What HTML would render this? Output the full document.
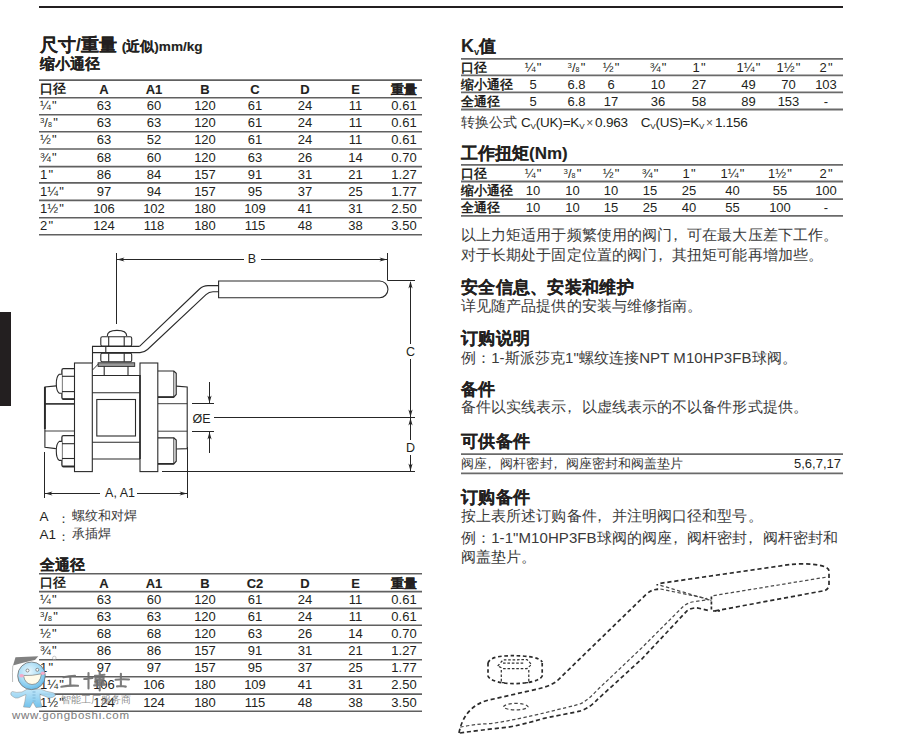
<!DOCTYPE html><html><head><meta charset="utf-8"><style>
html,body{margin:0;padding:0;background:#fff;width:899px;height:735px;overflow:hidden;position:relative}
body{font-family:"Liberation Sans", sans-serif;color:#231f20}
.a{position:absolute;white-space:nowrap;line-height:1}
.c{position:absolute;white-space:nowrap;line-height:1;text-align:center;width:60px}
.r{position:absolute;white-space:nowrap;line-height:1;text-align:right}
.hl{position:absolute}
.b{font-weight:bold}
.h{-webkit-text-stroke:0.12px #231f20}
.bs{-webkit-text-stroke:0.15px #231f20}
.fr sup{font-size:0.6em;vertical-align:0.55em;line-height:0}
.fr sub{font-size:0.55em;vertical-align:0;line-height:0}
</style></head><body>

<div class="hl" style="left:39px;top:6px;width:804px;height:2px;background:#231f20"></div>
<div class="hl" style="left:0;top:312px;width:11px;height:94px;background:#231f20"></div>
<div class="a h b" style="left:40px;top:37px;font-size:17.5px;">尺寸/重量 <span style="font-size:13.6px;-webkit-text-stroke:0.15px">(近似)mm/kg</span></div>
<div class="a h b" style="left:40px;top:57px;font-size:14.5px;">缩小通径</div>
<div class="a b" style="left:40px;top:82px;font-size:13px;">口径</div>
<div class="c b" style="left:74px;top:82.7px;font-size:13px;-webkit-text-stroke:0.1px #231f20">A</div>
<div class="c b" style="left:124px;top:82.7px;font-size:13px;-webkit-text-stroke:0.1px #231f20">A1</div>
<div class="c b" style="left:175px;top:82.7px;font-size:13px;-webkit-text-stroke:0.1px #231f20">B</div>
<div class="c b" style="left:225px;top:82.7px;font-size:13px;-webkit-text-stroke:0.1px #231f20">C</div>
<div class="c b" style="left:275px;top:82.7px;font-size:13px;-webkit-text-stroke:0.1px #231f20">D</div>
<div class="c b" style="left:325.5px;top:82.7px;font-size:13px;-webkit-text-stroke:0.1px #231f20">E</div>
<div class="c b" style="left:374px;top:82.7px;font-size:13px;-webkit-text-stroke:0.1px #231f20">重量</div>
<div class="a" style="left:40px;top:99.3px;font-size:13px;">¼<span style="margin-left:1.2px">"</span></div>
<div class="c" style="left:74px;top:99.3px;font-size:13px;">63</div>
<div class="c" style="left:124px;top:99.3px;font-size:13px;">60</div>
<div class="c" style="left:175px;top:99.3px;font-size:13px;">120</div>
<div class="c" style="left:225px;top:99.3px;font-size:13px;">61</div>
<div class="c" style="left:275px;top:99.3px;font-size:13px;">24</div>
<div class="c" style="left:325.5px;top:99.3px;font-size:13px;">11</div>
<div class="c" style="left:374px;top:99.3px;font-size:13px;">0.61</div>
<div class="a" style="left:40px;top:116.3px;font-size:13px;"><span class="fr"><sup>3</sup>/<sub>8</sub></span><span style="margin-left:1.2px">"</span></div>
<div class="c" style="left:74px;top:116.3px;font-size:13px;">63</div>
<div class="c" style="left:124px;top:116.3px;font-size:13px;">63</div>
<div class="c" style="left:175px;top:116.3px;font-size:13px;">120</div>
<div class="c" style="left:225px;top:116.3px;font-size:13px;">61</div>
<div class="c" style="left:275px;top:116.3px;font-size:13px;">24</div>
<div class="c" style="left:325.5px;top:116.3px;font-size:13px;">11</div>
<div class="c" style="left:374px;top:116.3px;font-size:13px;">0.61</div>
<div class="a" style="left:40px;top:133.4px;font-size:13px;">½<span style="margin-left:1.2px">"</span></div>
<div class="c" style="left:74px;top:133.4px;font-size:13px;">63</div>
<div class="c" style="left:124px;top:133.4px;font-size:13px;">52</div>
<div class="c" style="left:175px;top:133.4px;font-size:13px;">120</div>
<div class="c" style="left:225px;top:133.4px;font-size:13px;">61</div>
<div class="c" style="left:275px;top:133.4px;font-size:13px;">24</div>
<div class="c" style="left:325.5px;top:133.4px;font-size:13px;">11</div>
<div class="c" style="left:374px;top:133.4px;font-size:13px;">0.61</div>
<div class="a" style="left:40px;top:150.6px;font-size:13px;">¾<span style="margin-left:1.2px">"</span></div>
<div class="c" style="left:74px;top:150.6px;font-size:13px;">68</div>
<div class="c" style="left:124px;top:150.6px;font-size:13px;">60</div>
<div class="c" style="left:175px;top:150.6px;font-size:13px;">120</div>
<div class="c" style="left:225px;top:150.6px;font-size:13px;">63</div>
<div class="c" style="left:275px;top:150.6px;font-size:13px;">26</div>
<div class="c" style="left:325.5px;top:150.6px;font-size:13px;">14</div>
<div class="c" style="left:374px;top:150.6px;font-size:13px;">0.70</div>
<div class="a" style="left:40px;top:168.2px;font-size:13px;">1<span style="margin-left:1.2px">"</span></div>
<div class="c" style="left:74px;top:168.2px;font-size:13px;">86</div>
<div class="c" style="left:124px;top:168.2px;font-size:13px;">84</div>
<div class="c" style="left:175px;top:168.2px;font-size:13px;">157</div>
<div class="c" style="left:225px;top:168.2px;font-size:13px;">91</div>
<div class="c" style="left:275px;top:168.2px;font-size:13px;">31</div>
<div class="c" style="left:325.5px;top:168.2px;font-size:13px;">21</div>
<div class="c" style="left:374px;top:168.2px;font-size:13px;">1.27</div>
<div class="a" style="left:40px;top:184.5px;font-size:13px;">1¼<span style="margin-left:1.2px">"</span></div>
<div class="c" style="left:74px;top:184.5px;font-size:13px;">97</div>
<div class="c" style="left:124px;top:184.5px;font-size:13px;">94</div>
<div class="c" style="left:175px;top:184.5px;font-size:13px;">157</div>
<div class="c" style="left:225px;top:184.5px;font-size:13px;">95</div>
<div class="c" style="left:275px;top:184.5px;font-size:13px;">37</div>
<div class="c" style="left:325.5px;top:184.5px;font-size:13px;">25</div>
<div class="c" style="left:374px;top:184.5px;font-size:13px;">1.77</div>
<div class="a" style="left:40px;top:202.0px;font-size:13px;">1½<span style="margin-left:1.2px">"</span></div>
<div class="c" style="left:74px;top:202.0px;font-size:13px;">106</div>
<div class="c" style="left:124px;top:202.0px;font-size:13px;">102</div>
<div class="c" style="left:175px;top:202.0px;font-size:13px;">180</div>
<div class="c" style="left:225px;top:202.0px;font-size:13px;">109</div>
<div class="c" style="left:275px;top:202.0px;font-size:13px;">41</div>
<div class="c" style="left:325.5px;top:202.0px;font-size:13px;">31</div>
<div class="c" style="left:374px;top:202.0px;font-size:13px;">2.50</div>
<div class="a" style="left:40px;top:219.3px;font-size:13px;">2<span style="margin-left:1.2px">"</span></div>
<div class="c" style="left:74px;top:219.3px;font-size:13px;">124</div>
<div class="c" style="left:124px;top:219.3px;font-size:13px;">118</div>
<div class="c" style="left:175px;top:219.3px;font-size:13px;">180</div>
<div class="c" style="left:225px;top:219.3px;font-size:13px;">115</div>
<div class="c" style="left:275px;top:219.3px;font-size:13px;">48</div>
<div class="c" style="left:325.5px;top:219.3px;font-size:13px;">38</div>
<div class="c" style="left:374px;top:219.3px;font-size:13px;">3.50</div>
<div class="a h b" style="left:40px;top:558px;font-size:14.5px;">全通径</div>
<div class="a b" style="left:40px;top:576px;font-size:13px;">口径</div>
<div class="c b" style="left:74px;top:576.7px;font-size:13px;-webkit-text-stroke:0.1px #231f20">A</div>
<div class="c b" style="left:124px;top:576.7px;font-size:13px;-webkit-text-stroke:0.1px #231f20">A1</div>
<div class="c b" style="left:175px;top:576.7px;font-size:13px;-webkit-text-stroke:0.1px #231f20">B</div>
<div class="c b" style="left:225px;top:576.7px;font-size:13px;-webkit-text-stroke:0.1px #231f20">C2</div>
<div class="c b" style="left:275px;top:576.7px;font-size:13px;-webkit-text-stroke:0.1px #231f20">D</div>
<div class="c b" style="left:325.5px;top:576.7px;font-size:13px;-webkit-text-stroke:0.1px #231f20">E</div>
<div class="c b" style="left:374px;top:576.7px;font-size:13px;-webkit-text-stroke:0.1px #231f20">重量</div>
<div class="a" style="left:40px;top:593.2px;font-size:13px;">¼<span style="margin-left:1.2px">"</span></div>
<div class="c" style="left:74px;top:593.2px;font-size:13px;">63</div>
<div class="c" style="left:124px;top:593.2px;font-size:13px;">60</div>
<div class="c" style="left:175px;top:593.2px;font-size:13px;">120</div>
<div class="c" style="left:225px;top:593.2px;font-size:13px;">61</div>
<div class="c" style="left:275px;top:593.2px;font-size:13px;">24</div>
<div class="c" style="left:325.5px;top:593.2px;font-size:13px;">11</div>
<div class="c" style="left:374px;top:593.2px;font-size:13px;">0.61</div>
<div class="a" style="left:40px;top:610.0px;font-size:13px;"><span class="fr"><sup>3</sup>/<sub>8</sub></span><span style="margin-left:1.2px">"</span></div>
<div class="c" style="left:74px;top:610.0px;font-size:13px;">63</div>
<div class="c" style="left:124px;top:610.0px;font-size:13px;">63</div>
<div class="c" style="left:175px;top:610.0px;font-size:13px;">120</div>
<div class="c" style="left:225px;top:610.0px;font-size:13px;">61</div>
<div class="c" style="left:275px;top:610.0px;font-size:13px;">24</div>
<div class="c" style="left:325.5px;top:610.0px;font-size:13px;">11</div>
<div class="c" style="left:374px;top:610.0px;font-size:13px;">0.61</div>
<div class="a" style="left:40px;top:626.8px;font-size:13px;">½<span style="margin-left:1.2px">"</span></div>
<div class="c" style="left:74px;top:626.8px;font-size:13px;">68</div>
<div class="c" style="left:124px;top:626.8px;font-size:13px;">68</div>
<div class="c" style="left:175px;top:626.8px;font-size:13px;">120</div>
<div class="c" style="left:225px;top:626.8px;font-size:13px;">63</div>
<div class="c" style="left:275px;top:626.8px;font-size:13px;">26</div>
<div class="c" style="left:325.5px;top:626.8px;font-size:13px;">14</div>
<div class="c" style="left:374px;top:626.8px;font-size:13px;">0.70</div>
<div class="a" style="left:40px;top:644.3px;font-size:13px;">¾<span style="margin-left:1.2px">"</span></div>
<div class="c" style="left:74px;top:644.3px;font-size:13px;">86</div>
<div class="c" style="left:124px;top:644.3px;font-size:13px;">86</div>
<div class="c" style="left:175px;top:644.3px;font-size:13px;">157</div>
<div class="c" style="left:225px;top:644.3px;font-size:13px;">91</div>
<div class="c" style="left:275px;top:644.3px;font-size:13px;">31</div>
<div class="c" style="left:325.5px;top:644.3px;font-size:13px;">21</div>
<div class="c" style="left:374px;top:644.3px;font-size:13px;">1.27</div>
<div class="a" style="left:40px;top:661.4px;font-size:13px;">1<span style="margin-left:1.2px">"</span></div>
<div class="c" style="left:74px;top:661.4px;font-size:13px;">97</div>
<div class="c" style="left:124px;top:661.4px;font-size:13px;">97</div>
<div class="c" style="left:175px;top:661.4px;font-size:13px;">157</div>
<div class="c" style="left:225px;top:661.4px;font-size:13px;">95</div>
<div class="c" style="left:275px;top:661.4px;font-size:13px;">37</div>
<div class="c" style="left:325.5px;top:661.4px;font-size:13px;">25</div>
<div class="c" style="left:374px;top:661.4px;font-size:13px;">1.77</div>
<div class="a" style="left:40px;top:678.4px;font-size:13px;">1¼<span style="margin-left:1.2px">"</span></div>
<div class="c" style="left:74px;top:678.4px;font-size:13px;">106</div>
<div class="c" style="left:124px;top:678.4px;font-size:13px;">106</div>
<div class="c" style="left:175px;top:678.4px;font-size:13px;">180</div>
<div class="c" style="left:225px;top:678.4px;font-size:13px;">109</div>
<div class="c" style="left:275px;top:678.4px;font-size:13px;">41</div>
<div class="c" style="left:325.5px;top:678.4px;font-size:13px;">31</div>
<div class="c" style="left:374px;top:678.4px;font-size:13px;">2.50</div>
<div class="a" style="left:40px;top:695.7px;font-size:13px;">1½<span style="margin-left:1.2px">"</span></div>
<div class="c" style="left:74px;top:695.7px;font-size:13px;">124</div>
<div class="c" style="left:124px;top:695.7px;font-size:13px;">124</div>
<div class="c" style="left:175px;top:695.7px;font-size:13px;">180</div>
<div class="c" style="left:225px;top:695.7px;font-size:13px;">115</div>
<div class="c" style="left:275px;top:695.7px;font-size:13px;">48</div>
<div class="c" style="left:325.5px;top:695.7px;font-size:13px;">38</div>
<div class="c" style="left:374px;top:695.7px;font-size:13px;">3.50</div>
<div class="a h b" style="left:461px;top:36.5px;font-size:17px;"><span style="font-size:18px">K</span><sub style="font-size:9.5px;vertical-align:-2.5px;-webkit-text-stroke:0">v</sub>值</div>
<div class="a b" style="left:461px;top:61.2px;font-size:13px;">口径</div>
<div class="c" style="left:503px;top:61.2px;font-size:13px;">¼<span style="margin-left:1.2px">"</span></div>
<div class="c" style="left:546.5px;top:61.2px;font-size:13px;"><span class="fr"><sup>3</sup>/<sub>8</sub></span><span style="margin-left:1.2px">"</span></div>
<div class="c" style="left:581px;top:61.2px;font-size:13px;">½<span style="margin-left:1.2px">"</span></div>
<div class="c" style="left:628px;top:61.2px;font-size:13px;">¾<span style="margin-left:1.2px">"</span></div>
<div class="c" style="left:669px;top:61.2px;font-size:13px;">1<span style="margin-left:1.2px">"</span></div>
<div class="c" style="left:718.5px;top:61.2px;font-size:13px;">1¼<span style="margin-left:1.2px">"</span></div>
<div class="c" style="left:758.5px;top:61.2px;font-size:13px;">1½<span style="margin-left:1.2px">"</span></div>
<div class="c" style="left:796px;top:61.2px;font-size:13px;">2<span style="margin-left:1.2px">"</span></div>
<div class="a b" style="left:461px;top:77.6px;font-size:13px;">缩小通径</div>
<div class="c" style="left:503px;top:77.6px;font-size:13px;">5</div>
<div class="c" style="left:546.5px;top:77.6px;font-size:13px;">6.8</div>
<div class="c" style="left:581px;top:77.6px;font-size:13px;">6</div>
<div class="c" style="left:628px;top:77.6px;font-size:13px;">10</div>
<div class="c" style="left:669px;top:77.6px;font-size:13px;">27</div>
<div class="c" style="left:718.5px;top:77.6px;font-size:13px;">49</div>
<div class="c" style="left:758.5px;top:77.6px;font-size:13px;">70</div>
<div class="c" style="left:796px;top:77.6px;font-size:13px;">103</div>
<div class="a b" style="left:461px;top:94.7px;font-size:13px;">全通径</div>
<div class="c" style="left:503px;top:94.7px;font-size:13px;">5</div>
<div class="c" style="left:546.5px;top:94.7px;font-size:13px;">6.8</div>
<div class="c" style="left:581px;top:94.7px;font-size:13px;">17</div>
<div class="c" style="left:628px;top:94.7px;font-size:13px;">36</div>
<div class="c" style="left:669px;top:94.7px;font-size:13px;">58</div>
<div class="c" style="left:718.5px;top:94.7px;font-size:13px;">89</div>
<div class="c" style="left:758.5px;top:94.7px;font-size:13px;">153</div>
<div class="c" style="left:796px;top:94.7px;font-size:13px;">-</div>
<div class="a" style="left:461px;top:116px;font-size:13.5px;color:#3a3a3a">转换公式</div>
<div class="a" style="left:521px;top:115.5px;font-size:13.5px;letter-spacing:-0.2px">C<sub style="font-size:8px;vertical-align:-2px">V</sub>(UK)=K<sub style="font-size:8px;vertical-align:-2px">V</sub><span style="font-size:12px;margin:0 2px;color:#555">×</span>0.963</div>
<div class="a" style="left:640.8px;top:115.5px;font-size:13.5px;letter-spacing:-0.2px">C<sub style="font-size:8px;vertical-align:-2px">V</sub>(US)=K<sub style="font-size:8px;vertical-align:-2px">V</sub><span style="font-size:12px;margin:0 2px;color:#555">×</span>1.156</div>
<div class="a h b" style="left:461px;top:145px;font-size:17px;">工作扭矩(Nm)</div>
<div class="a b" style="left:461px;top:167.2px;font-size:13px;">口径</div>
<div class="c" style="left:503px;top:167.2px;font-size:13px;">¼<span style="margin-left:1.2px">"</span></div>
<div class="c" style="left:542.5px;top:167.2px;font-size:13px;"><span class="fr"><sup>3</sup>/<sub>8</sub></span><span style="margin-left:1.2px">"</span></div>
<div class="c" style="left:581px;top:167.2px;font-size:13px;">½<span style="margin-left:1.2px">"</span></div>
<div class="c" style="left:620px;top:167.2px;font-size:13px;">¾<span style="margin-left:1.2px">"</span></div>
<div class="c" style="left:659px;top:167.2px;font-size:13px;">1<span style="margin-left:1.2px">"</span></div>
<div class="c" style="left:702.5px;top:167.2px;font-size:13px;">1¼<span style="margin-left:1.2px">"</span></div>
<div class="c" style="left:750px;top:167.2px;font-size:13px;">1½<span style="margin-left:1.2px">"</span></div>
<div class="c" style="left:796px;top:167.2px;font-size:13px;">2<span style="margin-left:1.2px">"</span></div>
<div class="a b" style="left:461px;top:183.8px;font-size:13px;">缩小通径</div>
<div class="c" style="left:503px;top:183.8px;font-size:13px;">10</div>
<div class="c" style="left:542.5px;top:183.8px;font-size:13px;">10</div>
<div class="c" style="left:581px;top:183.8px;font-size:13px;">10</div>
<div class="c" style="left:620px;top:183.8px;font-size:13px;">15</div>
<div class="c" style="left:659px;top:183.8px;font-size:13px;">25</div>
<div class="c" style="left:702.5px;top:183.8px;font-size:13px;">40</div>
<div class="c" style="left:750px;top:183.8px;font-size:13px;">55</div>
<div class="c" style="left:796px;top:183.8px;font-size:13px;">100</div>
<div class="a b" style="left:461px;top:201.4px;font-size:13px;">全通径</div>
<div class="c" style="left:503px;top:201.4px;font-size:13px;">10</div>
<div class="c" style="left:542.5px;top:201.4px;font-size:13px;">10</div>
<div class="c" style="left:581px;top:201.4px;font-size:13px;">15</div>
<div class="c" style="left:620px;top:201.4px;font-size:13px;">25</div>
<div class="c" style="left:659px;top:201.4px;font-size:13px;">40</div>
<div class="c" style="left:702.5px;top:201.4px;font-size:13px;">55</div>
<div class="c" style="left:750px;top:201.4px;font-size:13px;">100</div>
<div class="c" style="left:796px;top:201.4px;font-size:13px;">-</div>
<div class="a" style="left:461px;top:228px;font-size:14.5px;color:#3a3a3a;letter-spacing:0.08px">以上力矩适用于频繁使用的阀门<span style="position:relative;left:-0.3em">，</span>可在最大压差下工作。</div>
<div class="a" style="left:461px;top:248px;font-size:14.5px;color:#3a3a3a;letter-spacing:0.08px">对于长期处于固定位置的阀门<span style="position:relative;left:-0.3em">，</span>其扭矩可能再增加些。</div>
<div class="a h b" style="left:461px;top:279px;font-size:17px;letter-spacing:0.3px">安全信息、安装和维护</div>
<div class="a" style="left:461px;top:299px;font-size:14.5px;color:#3a3a3a;letter-spacing:0.08px">详见随产品提供的安装与维修指南。</div>
<div class="a h b" style="left:461px;top:330px;font-size:17px;letter-spacing:0.3px">订购说明</div>
<div class="a" style="left:461px;top:350px;font-size:14.5px;color:#3a3a3a;letter-spacing:0.08px">例：<span style="font-size:15px">1-</span>斯派莎克<span style="font-size:15px">1"</span>螺纹连接<span style="font-size:15px">NPT M10HP3FB</span>球阀。</div>
<div class="a h b" style="left:461px;top:381px;font-size:17px;letter-spacing:0.3px">备件</div>
<div class="a" style="left:461px;top:400px;font-size:14.5px;color:#3a3a3a;letter-spacing:0.08px">备件以实线表示<span style="position:relative;left:-0.3em">，</span>以虚线表示的不以备件形式提供。</div>
<div class="a h b" style="left:461px;top:433px;font-size:17px;letter-spacing:0.3px">可供备件</div>
<div class="a" style="left:461px;top:457px;font-size:13.3px;color:#3a3a3a;letter-spacing:0.08px">阀座<span style="position:relative;left:-0.3em">，</span>阀杆密封<span style="position:relative;left:-0.3em">，</span>阀座密封和阀盖垫片</div>
<div class="r" style="right:58px;top:457px;font-size:13px;">5,6,7,17</div>
<div class="a h b" style="left:461px;top:489px;font-size:17px;letter-spacing:0.3px">订购备件</div>
<div class="a" style="left:461px;top:509px;font-size:14.5px;color:#3a3a3a;letter-spacing:0.08px">按上表所述订购备件<span style="position:relative;left:-0.3em">，</span>并注明阀口径和型号。</div>
<div class="a" style="left:461px;top:530px;font-size:14.5px;color:#3a3a3a;letter-spacing:0.08px">例：<span style="font-size:15px">1-1"M10HP3FB</span>球阀的阀座<span style="position:relative;left:-0.3em">，</span>阀杆密封<span style="position:relative;left:-0.3em">，</span>阀杆密封和</div>
<div class="a" style="left:461px;top:550px;font-size:14.5px;color:#3a3a3a;letter-spacing:0.08px">阀盖垫片。</div>
<svg style="position:absolute;left:0;top:0" width="899" height="735"><line x1="39" y1="80.1" x2="422" y2="80.1" stroke="#606060" stroke-width="1.6"/><line x1="39" y1="97.7" x2="422" y2="97.7" stroke="#606060" stroke-width="1.6"/><line x1="39" y1="114.7" x2="422" y2="114.7" stroke="#606060" stroke-width="1.6"/><line x1="39" y1="131.8" x2="422" y2="131.8" stroke="#606060" stroke-width="1.6"/><line x1="39" y1="149.0" x2="422" y2="149.0" stroke="#606060" stroke-width="1.6"/><line x1="39" y1="166.6" x2="422" y2="166.6" stroke="#606060" stroke-width="1.6"/><line x1="39" y1="182.9" x2="422" y2="182.9" stroke="#606060" stroke-width="1.6"/><line x1="39" y1="200.4" x2="422" y2="200.4" stroke="#606060" stroke-width="1.6"/><line x1="39" y1="217.7" x2="422" y2="217.7" stroke="#606060" stroke-width="1.6"/><line x1="39" y1="234.8" x2="422" y2="234.8" stroke="#606060" stroke-width="1.6"/><line x1="39" y1="573.8" x2="422" y2="573.8" stroke="#606060" stroke-width="1.6"/><line x1="39" y1="591.6" x2="422" y2="591.6" stroke="#606060" stroke-width="1.6"/><line x1="39" y1="608.4" x2="422" y2="608.4" stroke="#606060" stroke-width="1.6"/><line x1="39" y1="625.2" x2="422" y2="625.2" stroke="#606060" stroke-width="1.6"/><line x1="39" y1="642.7" x2="422" y2="642.7" stroke="#606060" stroke-width="1.6"/><line x1="39" y1="659.8" x2="422" y2="659.8" stroke="#606060" stroke-width="1.6"/><line x1="39" y1="676.8" x2="422" y2="676.8" stroke="#606060" stroke-width="1.6"/><line x1="39" y1="694.1" x2="422" y2="694.1" stroke="#606060" stroke-width="1.6"/><line x1="39" y1="711.2" x2="422" y2="711.2" stroke="#606060" stroke-width="1.6"/><line x1="461" y1="58.9" x2="843" y2="58.9" stroke="#6a6a6a" stroke-width="1.8"/><line x1="461" y1="75.3" x2="843" y2="75.3" stroke="#6a6a6a" stroke-width="1.8"/><line x1="461" y1="92.4" x2="843" y2="92.4" stroke="#6a6a6a" stroke-width="1.8"/><line x1="461" y1="109.5" x2="843" y2="109.5" stroke="#6a6a6a" stroke-width="1.8"/><line x1="461" y1="164.9" x2="843" y2="164.9" stroke="#6a6a6a" stroke-width="1.8"/><line x1="461" y1="181.5" x2="843" y2="181.5" stroke="#6a6a6a" stroke-width="1.8"/><line x1="461" y1="199.1" x2="843" y2="199.1" stroke="#6a6a6a" stroke-width="1.8"/><line x1="461" y1="215.8" x2="843" y2="215.8" stroke="#6a6a6a" stroke-width="1.8"/><line x1="461" y1="454.2" x2="843" y2="454.2" stroke="#6a6a6a" stroke-width="1.8"/><line x1="461" y1="473.4" x2="843" y2="473.4" stroke="#6a6a6a" stroke-width="1.8"/></svg>
<svg style="position:absolute;left:0;top:0" width="899" height="735" viewBox="0 0 899 735"><line x1="116.5" y1="253" x2="116.5" y2="324" stroke="#262626" stroke-width="1.0"/><line x1="387.5" y1="253" x2="387.5" y2="280.5" stroke="#262626" stroke-width="1.0"/><line x1="387.5" y1="280.5" x2="415" y2="280.5" stroke="#262626" stroke-width="1.0"/><line x1="117" y1="259.5" x2="244" y2="259.5" stroke="#262626" stroke-width="1.0"/><line x1="261" y1="259.5" x2="387" y2="259.5" stroke="#262626" stroke-width="1.0"/><path d="M117,259.5 L124.5,257.4 L122.5,259.5 L124.5,261.6 Z" fill="#262626"/><path d="M387,259.5 L379.5,257.4 L381.5,259.5 L379.5,261.6 Z" fill="#262626"/><line x1="410.5" y1="282" x2="410.5" y2="344" stroke="#262626" stroke-width="1.0"/><line x1="410.5" y1="359" x2="410.5" y2="417" stroke="#262626" stroke-width="1.0"/><path d="M410.5,281 L408.4,288.5 L410.5,286.5 L412.6,288.5 Z" fill="#262626"/><path d="M410.5,417 L408.4,409.5 L410.5,411.5 L412.6,409.5 Z" fill="#262626"/><line x1="214" y1="417.5" x2="415" y2="417.5" stroke="#262626" stroke-width="1.0"/><line x1="410.5" y1="418" x2="410.5" y2="440" stroke="#262626" stroke-width="1.0"/><line x1="410.5" y1="455" x2="410.5" y2="471" stroke="#262626" stroke-width="1.0"/><path d="M410.5,418 L408.4,425.5 L410.5,423.5 L412.6,425.5 Z" fill="#262626"/><path d="M410.5,471 L408.4,463.5 L410.5,465.5 L412.6,463.5 Z" fill="#262626"/><line x1="162" y1="471.5" x2="415" y2="471.5" stroke="#262626" stroke-width="1.0"/><line x1="192" y1="403.5" x2="214" y2="403.5" stroke="#262626" stroke-width="1.0"/><line x1="192" y1="431.5" x2="214" y2="431.5" stroke="#262626" stroke-width="1.0"/><line x1="209.5" y1="382" x2="209.5" y2="403" stroke="#262626" stroke-width="1.0"/><path d="M209.5,403 L207.4,395.5 L209.5,397.5 L211.6,395.5 Z" fill="#262626"/><line x1="209.5" y1="432" x2="209.5" y2="453" stroke="#262626" stroke-width="1.0"/><path d="M209.5,432 L207.4,439.5 L209.5,437.5 L211.6,439.5 Z" fill="#262626"/><line x1="44.5" y1="452" x2="44.5" y2="498" stroke="#262626" stroke-width="1.0"/><line x1="187.5" y1="447" x2="187.5" y2="498" stroke="#262626" stroke-width="1.0"/><line x1="45" y1="493.5" x2="100" y2="493.5" stroke="#262626" stroke-width="1.0"/><line x1="137" y1="493.5" x2="187" y2="493.5" stroke="#262626" stroke-width="1.0"/><path d="M45,493.5 L52.5,491.4 L50.5,493.5 L52.5,495.6 Z" fill="#262626"/><path d="M187,493.5 L179.5,491.4 L181.5,493.5 L179.5,495.6 Z" fill="#262626"/><path d="M218.6,281 H379.6 A8.35,8.35 0 0 1 379.6,297.7 H218.6 Z" stroke="#2a2a2a" stroke-width="1.1" fill="#fff" /><path d="M218.6,285.6 H208 Q203,285.6 199.5,289 L139.5,346.4" stroke="#2a2a2a" stroke-width="1.1" fill="none" /><path d="M218.6,291.8 H213 Q209,291.8 206,294.6 L147.5,349.5 Q144,352.6 140,352.6" stroke="#2a2a2a" stroke-width="1.1" fill="none" /><path d="M56.3,385.9 L44.9,386.9 V447.3 L55.9,448.6" stroke="#2a2a2a" stroke-width="1.1" fill="none" /><line x1="44.9" y1="387" x2="44.9" y2="429" stroke="#2a2a2a" stroke-width="1.9"/><line x1="44.9" y1="403.9" x2="74.5" y2="403.9" stroke="#2a2a2a" stroke-width="1.6"/><line x1="44.9" y1="431" x2="74.5" y2="431" stroke="#2a2a2a" stroke-width="0.9"/><path d="M176.2,386.1 L187.2,386.9 V448.6 L176.2,449" stroke="#2a2a2a" stroke-width="1.1" fill="none" /><line x1="157.9" y1="403.7" x2="187.2" y2="403.7" stroke="#2a2a2a" stroke-width="0.9"/><line x1="157.9" y1="431.2" x2="187.2" y2="431.2" stroke="#2a2a2a" stroke-width="0.9"/><path d="M74.6,368.7 H63.5 Q61.9,368.7 61.9,370.3 V397.5 Q61.9,399.1 63.5,399.1 H74.6" stroke="#2a2a2a" stroke-width="1.3" fill="#fff" /><line x1="62.5" y1="399.1" x2="74.6" y2="399.1" stroke="#2a2a2a" stroke-width="1.6"/><line x1="61.9" y1="376.3" x2="74.6" y2="376.3" stroke="#2a2a2a" stroke-width="1.1"/><line x1="61.9" y1="391.6" x2="74.6" y2="391.6" stroke="#2a2a2a" stroke-width="1.1"/><path d="M61.9,374.3 H59.3 Q56.3,376.3 56.3,383.8 Q56.3,391.3 59.3,393.3 H61.9" stroke="#2a2a2a" stroke-width="1.1" fill="#fff" /><path d="M74.6,435.7 H63.5 Q61.9,435.7 61.9,437.3 V464.9 Q61.9,466.5 63.5,466.5 H74.6" stroke="#2a2a2a" stroke-width="1.3" fill="#fff" /><line x1="62.5" y1="466.5" x2="74.6" y2="466.5" stroke="#2a2a2a" stroke-width="1.6"/><line x1="61.9" y1="443.7" x2="74.6" y2="443.7" stroke="#2a2a2a" stroke-width="1.1"/><line x1="61.9" y1="458.5" x2="74.6" y2="458.5" stroke="#2a2a2a" stroke-width="1.1"/><path d="M61.9,441.4 H59.3 Q56.3,443.4 56.3,450.9 Q56.3,458.4 59.3,460.4 H61.9" stroke="#2a2a2a" stroke-width="1.1" fill="#fff" /><path d="M157.9,371 H173.8 L176.2,373.3 V394.5 L173.8,397.1 H157.9" stroke="#2a2a2a" stroke-width="1.2" fill="#fff" /><line x1="157.9" y1="397.1" x2="173.8" y2="397.1" stroke="#2a2a2a" stroke-width="1.6"/><line x1="173.8" y1="371" x2="173.8" y2="397.1" stroke="#2a2a2a" stroke-width="0.9"/><path d="M157.9,437.8 H173.8 L176.2,440.1 V461.2 L173.8,463.8 H157.9" stroke="#2a2a2a" stroke-width="1.2" fill="#fff" /><line x1="157.9" y1="463.8" x2="173.8" y2="463.8" stroke="#2a2a2a" stroke-width="1.6"/><line x1="173.8" y1="437.8" x2="173.8" y2="463.8" stroke="#2a2a2a" stroke-width="0.9"/><rect x="74.5" y="363" width="17.8" height="108.6" rx="0" stroke="#2a2a2a" stroke-width="1.1" fill="#fff"/><rect x="140" y="363" width="17.8" height="108.6" rx="0" stroke="#2a2a2a" stroke-width="1.1" fill="#fff"/><line x1="92.3" y1="375.5" x2="140" y2="375.5" stroke="#2a2a2a" stroke-width="1.1"/><line x1="92.3" y1="459" x2="140" y2="459" stroke="#2a2a2a" stroke-width="1.1"/><line x1="92.3" y1="392.7" x2="140" y2="392.7" stroke="#2a2a2a" stroke-width="1.1"/><line x1="92.3" y1="442.2" x2="140" y2="442.2" stroke="#2a2a2a" stroke-width="1.1"/><rect x="96.8" y="399.5" width="38.7" height="36.5" rx="0" stroke="#2a2a2a" stroke-width="1.1" fill="#fff"/><line x1="140" y1="375" x2="140" y2="459" stroke="#2a2a2a" stroke-width="1.6"/><line x1="104.2" y1="366" x2="104.2" y2="375.5" stroke="#2a2a2a" stroke-width="1.1"/><line x1="128" y1="366" x2="128" y2="375.5" stroke="#2a2a2a" stroke-width="1.1"/><rect x="98.1" y="362.8" width="36.6" height="3.6" rx="0" stroke="#2a2a2a" stroke-width="0.9" fill="#9a9a9a"/><rect x="100.8" y="353.3" width="30.9" height="8.4" rx="1.5" stroke="#2a2a2a" stroke-width="1.1" fill="#fff"/><line x1="108.7" y1="353.3" x2="108.7" y2="361.7" stroke="#2a2a2a" stroke-width="1.1"/><line x1="124.2" y1="353.3" x2="124.2" y2="361.7" stroke="#2a2a2a" stroke-width="1.1"/><path d="M139.5,346.4 H92.5 V363" stroke="#2a2a2a" stroke-width="1.1" fill="none" /><line x1="92.5" y1="352.6" x2="140" y2="352.6" stroke="#2a2a2a" stroke-width="1.1"/><line x1="105.8" y1="346.4" x2="105.8" y2="352.6" stroke="#2a2a2a" stroke-width="1.1"/><path d="M92.5,370 L98.3,364" stroke="#2a2a2a" stroke-width="0.9" fill="none" /><rect x="100.8" y="336.7" width="30.9" height="9.4" rx="1.5" stroke="#2a2a2a" stroke-width="1.1" fill="#fff"/><line x1="108.7" y1="336.7" x2="108.7" y2="346" stroke="#2a2a2a" stroke-width="1.1"/><line x1="124.2" y1="336.7" x2="124.2" y2="346" stroke="#2a2a2a" stroke-width="1.1"/><path d="M107.3,336 C107.3,331.5 111,330.4 117,330.4 C123,330.4 126.7,331.5 126.7,336" stroke="#2a2a2a" stroke-width="1.1" fill="#fff" /><path d="M459,733 C462,717 471,705 487,700.5 L526,691.6 C538,689 549,687 557,681 L646,594.5 C650,591 653,589.5 657.3,589.4 V584" stroke="#2b2b2b" stroke-width="1.7" fill="none" stroke-dasharray="4.2 2.8"/><path d="M660.4,583.3 L790,564.5 C805,563 829,564 829,571 L829,586 C828,589 826,590 825,590.5 L713.4,611.2" stroke="#2b2b2b" stroke-width="1.7" fill="none" stroke-dasharray="4.2 2.8"/><path d="M711.4,596.5 V611 M713,611 L720,610.8" stroke="#2b2b2b" stroke-width="1.7" fill="none" stroke-dasharray="3 2"/><path d="M460,733 C470,731.5 490,729 508.4,727.2 C525,724 535,721 544,718.3 C560,715 572,713 579.6,711.2 C588,708.8 593,704 597.3,699.6 L642,658.8 L687,610.8 C690,608.5 694,607.8 697,607.8 L709.4,610.8" stroke="#2b2b2b" stroke-width="1.7" fill="none" stroke-dasharray="4.2 2.8"/><path d="M460.3,727.2 C470,725 480,724 490.6,723.6 C510,721 530,716 544,713 C560,709 575,705.5 580.8,703.7 C590,699 596,691 601.2,686.3 L642,647.6 L682.9,606.7 C686,604 690,602 695,601.6 L709.4,599.6" stroke="#4a4a4a" stroke-width="1.25" fill="none" stroke-dasharray="3.4 2.4"/><path d="M660.4,585.3 L711.4,600.6" stroke="#4a4a4a" stroke-width="1.25" fill="none" stroke-dasharray="3.4 2.4"/><path d="M660.4,589 L707.3,598.6" stroke="#4a4a4a" stroke-width="1.25" fill="none" stroke-dasharray="3.4 2.4"/><path d="M713.5,595.6 L829,576.7" stroke="#4a4a4a" stroke-width="1.25" fill="none" stroke-dasharray="3.4 2.4"/><path d="M488,663 C490,656 505,655.7 513.7,655.7 C525,655.7 540,657 542.2,662.2" stroke="#2b2b2b" stroke-width="1.7" fill="none" stroke-dasharray="3.6 2.6"/><path d="M488,663 V676 C490,681 502,683.6 513.7,683.6 C527,683.6 540,681 542.2,676 V662.2" stroke="#2b2b2b" stroke-width="1.7" fill="none" stroke-dasharray="3.6 2.6"/><path d="M497.7,666 L503,660 L527,659.6 L531.5,664.5 L527,668.5 L503,668.5 Z" stroke="#333" stroke-width="1.25" fill="none" stroke-dasharray="2.6 1.8"/><path d="M503,663 L525,663" stroke="#333" stroke-width="1.25" fill="none" stroke-dasharray="2.6 1.8"/><path d="M501.3,670 V682.7 H505 M528.8,670 V682.7 H525" stroke="#333" stroke-width="1.25" fill="none" stroke-dasharray="2.6 1.8"/><path d="M503.5,706.7 A12.3,3.6 0 0 1 528,706.7 A12.3,3.6 0 0 1 503.5,706.7" stroke="#444" stroke-width="1.25" fill="none" stroke-dasharray="3.4 2.4"/></svg>
<svg style="position:absolute;left:0;top:0" width="899" height="735" viewBox="0 0 899 735"><defs><radialGradient id="hg" cx="0.42" cy="0.35" r="0.7"><stop offset="0" stop-color="#e8f7fd"/><stop offset="0.55" stop-color="#a9dcf5"/><stop offset="1" stop-color="#5cb5e6"/></radialGradient><linearGradient id="bg" x1="0" y1="0" x2="0" y2="1"><stop offset="0" stop-color="#bfe6f9"/><stop offset="1" stop-color="#6cc0ec"/></linearGradient></defs><path d="M15.5,657.2 L38.3,656.3 L35,660 Q26,661.5 13,665.5 Z" fill="#7a7a7a" opacity="0.95"/><path d="M12.8,665.5 Q12.2,672 12.6,682" stroke="#b5b5b5" stroke-width="0.9" fill="none"/><path d="M27.5,689 L22,692 Q16,693 12.5,691.5 Q10,692 11,695 Q13,697 15.5,698 L18,698 Q22,696 26,694.5 Q25,702 23.5,707 L30,707.5 L33,702 L36,707.5 L42,707 Q40,702 40,694.5 Q45,696 49,698 Q53,698 55.5,695.5 Q55,692.5 52,692.5 Q47,692 40.5,689 Z" fill="url(#bg)" stroke="#8a8a8a" stroke-width="0.5" opacity="0.95"/><path d="M32.5,692 h3 M32.5,695 h3 M32.5,698 h3 M32.5,701 h3" stroke="#7fb5d5" stroke-width="1"/><circle cx="31.5" cy="675.8" r="13.8" fill="url(#hg)" stroke="#707070" stroke-width="0.8"/><path d="M23.5,675.5 Q32,676 41.5,673.8 Q40,684.5 32,684.5 Q24.8,684 23.5,675.5 Z" fill="#fffbea" stroke="#666" stroke-width="0.6"/><circle cx="27.5" cy="670.5" r="1.5" fill="#fff" stroke="#666" stroke-width="0.7"/><circle cx="37.3" cy="669.8" r="1.5" fill="#fff" stroke="#666" stroke-width="0.7"/><ellipse cx="21.6" cy="675.8" rx="2.3" ry="1.8" fill="#f4a9c8"/><ellipse cx="42.8" cy="673.2" rx="2" ry="1.7" fill="#f4a9c8"/><circle cx="54.3" cy="658" r="1.8" fill="none" stroke="#aaa" stroke-width="0.6"/></svg>
<svg style="position:absolute;left:0;top:0" width="899" height="735"><path d="M63.5,677.3 Q69,676.2 75,675.8 M70.3,676.8 V685.6 M61.3,686.8 Q70,685.2 78,685.8 M84.3,679 L92.6,678 M88.5,673 V688.5 M95,675.8 L104.5,674.8 M99.7,671.5 V690.5 M95.5,677.6 H103.5 V682.6 H95.5 Z M95.5,680.1 H103.5 M94.2,685.4 L105,684.6 M115.6,679.8 Q122,678.9 129,679.5 M120.9,673.8 V686.2 M117,686.4 Q121,685.6 125.8,686.6" stroke="#6e6e6e" stroke-width="2.1" stroke-linecap="round" fill="none" opacity="0.9"/></svg>
<div class="a" style="left:61px;top:695px;font-size:9.6px;color:rgba(120,120,120,0.85)">智能工厂服务商</div>
<div class="a" style="left:12px;top:709.5px;font-size:11.5px;color:rgba(115,115,115,0.9);letter-spacing:0.72px;-webkit-text-stroke:0.2px rgba(115,115,115,0.6)">www.gongboshi.com</div>
<div class="c" style="left:222px;top:253px;font-size:12.5px;">B</div>
<div class="c" style="left:380.5px;top:346px;font-size:12.5px;">C</div>
<div class="c" style="left:380.5px;top:442px;font-size:12.5px;">D</div>
<div class="c" style="left:171.5px;top:412.5px;font-size:12.5px;">ØE</div>
<div class="c" style="left:90px;top:487px;font-size:12.5px;">A, A1</div>
<div class="a" style="left:39.5px;top:509.5px;font-size:13.5px;">A</div>
<div class="a" style="left:39.5px;top:527.5px;font-size:13.5px;">A1</div>
<div class="a" style="left:57px;top:511.5px;font-size:13px;color:#3a3a3a">：</div>
<div class="a" style="left:57px;top:529.5px;font-size:13px;color:#3a3a3a">：</div>
<div class="a" style="left:71.5px;top:509px;font-size:13px;color:#3a3a3a">螺纹和对焊</div>
<div class="a" style="left:71.5px;top:527px;font-size:13px;color:#3a3a3a">承插焊</div>
</body></html>
